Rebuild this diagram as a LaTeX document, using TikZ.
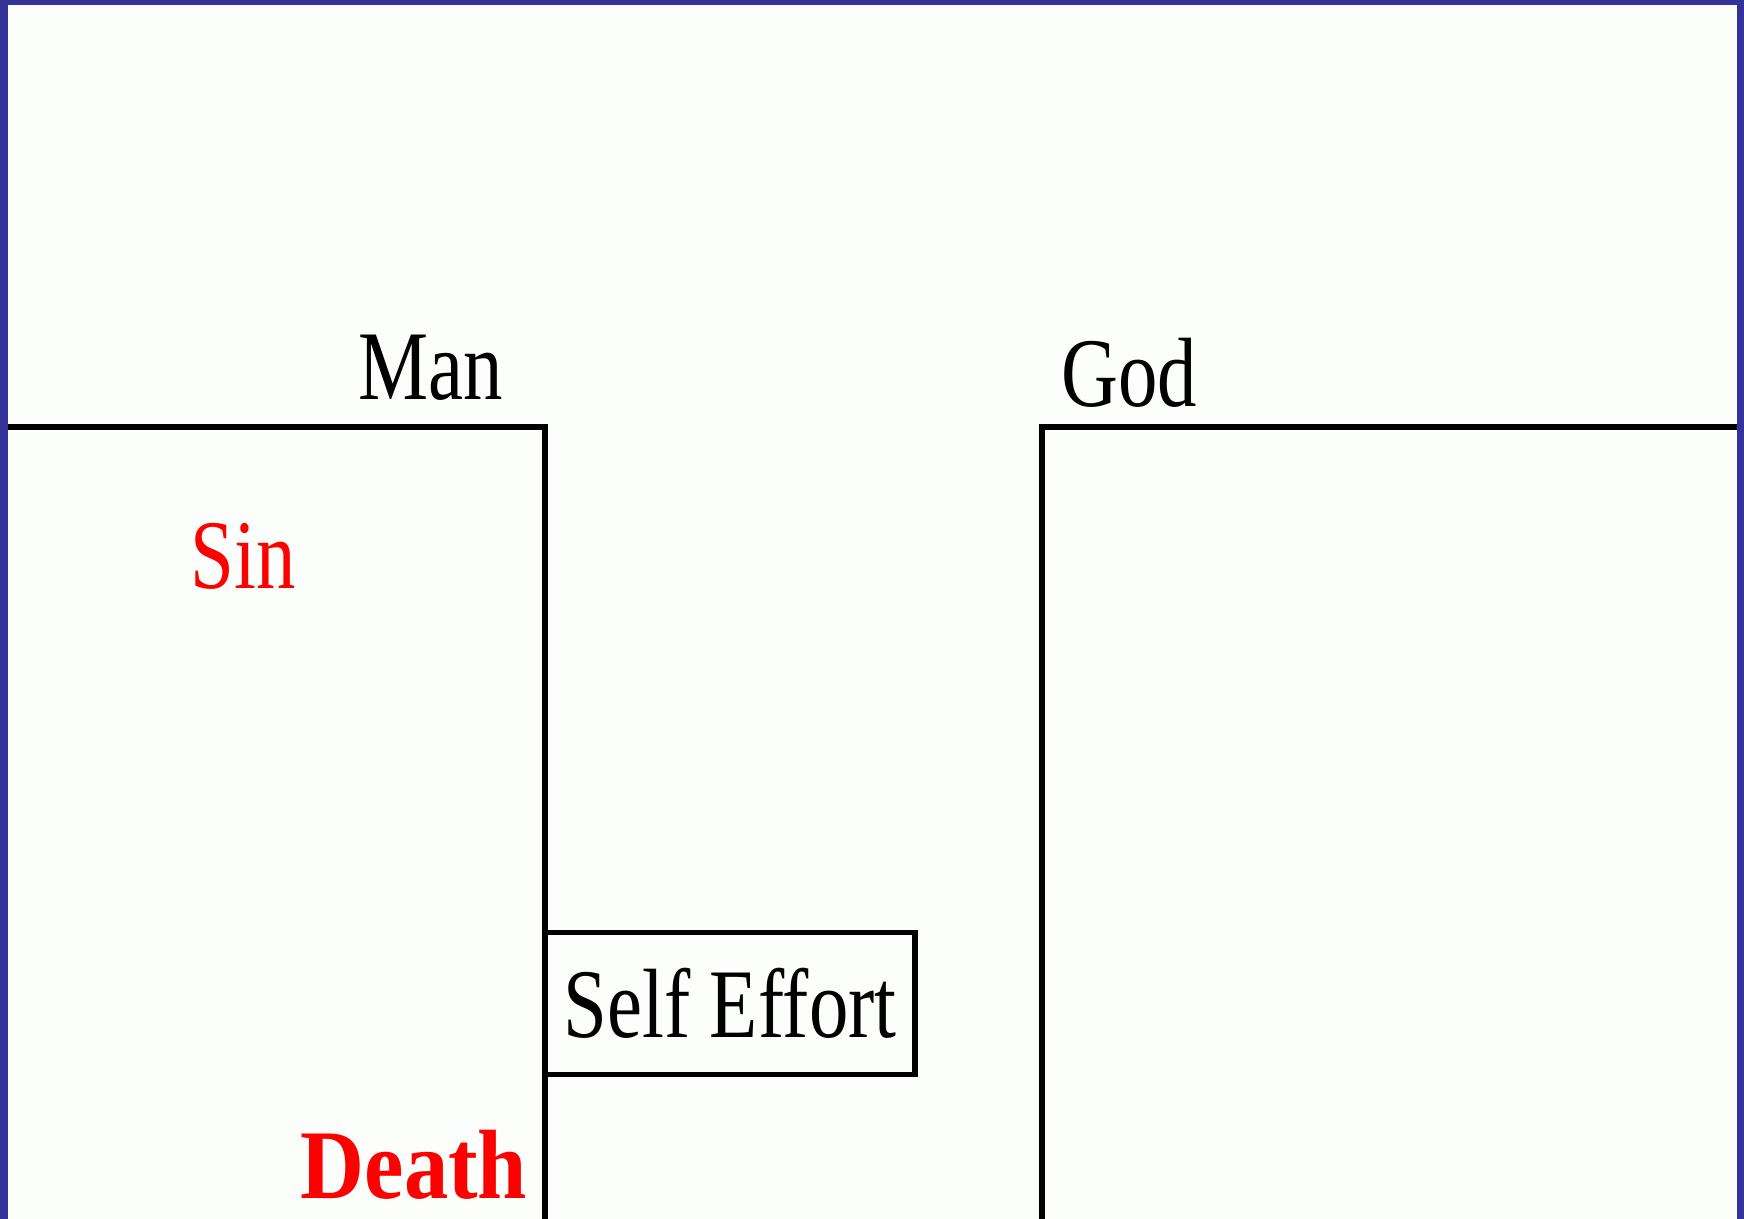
\documentclass[tikz,border=0pt]{standalone}
\usepackage{fontspec}
\newfontfamily\pixelserif[FakeStretch=0.8]{Liberation Serif}
\newfontfamily\pixelbold[FakeStretch=0.9]{Liberation Serif Bold}
\definecolor{frameblue}{HTML}{333399}
\definecolor{paper}{HTML}{FCFEFC}
\definecolor{sinred}{HTML}{FF0000}

\begin{document}
\begin{tikzpicture}[x=0.01cm,y=-0.01cm,
    wall/.style={line width=0.055cm},
    labeltext/.style={font=\pixelserif\fontsize{28}{30}\selectfont, inner sep=0pt, anchor=base west},
    effortbox/.style={draw, line width=0.055cm, minimum width=3.7cm, minimum height=1.42cm, inner sep=0pt,
        font=\pixelserif\fontsize{28}{30}\selectfont}]
    \useasboundingbox (0,0) rectangle (1744,1219);
    \fill[frameblue] (0,0) rectangle (1744,1219); % frame
    \fill[paper] (8,5) rectangle (1737,1219);

    \draw[wall] (8,427) -- (545,427) -- (545,1219); % man side
    \draw[wall] (1737,427) -- (1042,427) -- (1042,1219); % god side

    \node[labeltext] (man) at (358,400) {Man};
    \node[labeltext] (god) at (1061,407) {God};
    \node[labeltext, sinred] (sin) at (190,589) {Sin};
    \node[labeltext, sinred, font=\pixelbold\fontsize{28}{30}\selectfont] (death) at (300,1199) {Death};

    \node[effortbox] (effort) at (730,1003.5) {Self Effort};
\end{tikzpicture}
\end{document}
